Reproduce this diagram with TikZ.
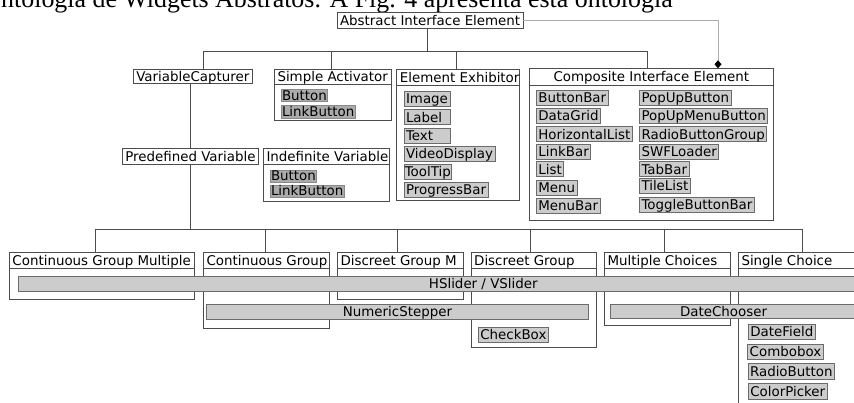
\documentclass[tikz,border=0pt]{standalone}
\usepackage{fontspec}
\setmainfont{DejaVu Sans}
\newfontfamily\titlefont{Liberation Serif}
\usetikzlibrary{calc,arrows.meta}
\definecolor{edge}{gray}{0.3}
\definecolor{itemfill}{gray}{0.8}
\definecolor{itemdark}{gray}{0.67}
\definecolor{itemedge}{gray}{0.42}
\definecolor{linkgray}{gray}{0.68}
\newcommand\mkpanel[7]{%
  \node[box, minimum width=#4pt, minimum height=#5pt] (#1) at (#2,#3) {};
  \draw[tree] ([yshift=-#6pt]#1.north west) -- ([yshift=-#6pt]#1.north east);
  \node[hdr] (#1-t) at ([yshift=-0.5*#6pt]#1.north west) {#7};
}
\begin{document}
\begin{tikzpicture}[x=1pt,y=-1pt,
  font=\fontsize{13.4}{16}\selectfont,
  box/.style={draw=edge, line width=0.9pt, anchor=north west, inner sep=0pt, outer sep=0pt},
  solo/.style={draw=edge, line width=0.9pt, anchor=north west, inner xsep=3pt, inner ysep=0pt, outer sep=0pt, text height=9.8pt, text depth=0pt},
  hdr/.style={anchor=west, inner xsep=3pt, inner ysep=0pt, text height=9.8pt, text depth=0pt},
  itm/.style={draw=itemedge, fill=itemfill, line width=0.8pt, anchor=north west, inner xsep=2pt, inner ysep=0pt, outer sep=0pt, text height=9.8pt, text depth=0pt, minimum height=15pt},
  dk/.style={itm, fill=itemdark, draw=itemdark!80!black, inner xsep=1pt, minimum height=12.4pt},
  bar/.style={itm, inner xsep=0pt},
  tree/.style={draw=edge, line width=0.9pt},
]
\useasboundingbox (0,0) rectangle (854,403);
\clip (0,0) rectangle (854,403);
\fill[white] (0,0) rectangle (854,403);

% cut-off text line of the page
\node[anchor=base west, inner sep=0pt, font=\titlefont\fontsize{25.9}{30}\selectfont] (title) at (1,8) {ntologia de Widgets Abstratos. A Fig. 4 apresenta esta ontologia};

% top level
\node[solo, fill=white, minimum height=15.6pt] (aie) at (337,12.7) {Abstract Interface Element};
\node[solo, minimum height=14.5pt] (vc) at (133.3,69) {VariableCapturer};
\mkpanel{sa}{274.3}{69}{116.7}{51.7}{15.3}{Simple Activator}
\mkpanel{ee}{396.7}{69.5}{122.6}{130.5}{15.5}{Element Exhibitor}
\node[box, minimum width=244pt, minimum height=151.7pt] (cie) at (529.3,68.3) {};
\draw[tree] ([yshift=-16.7pt]cie.north west) -- ([yshift=-16.7pt]cie.north east);
\node[hdr, anchor=center] (cie-t) at ([yshift=-8.35pt]cie.north) {Composite Interface Element};

\node[solo, minimum height=15.3pt] (pv) at (122.3,148.7) {Predefined Variable};
\mkpanel{iv}{263.3}{148.3}{126}{53.4}{15.7}{Indefinite Variable}

% connectors, top
\draw[tree] (aie.south -| 427.5,0) -- (427.5,51);
\draw[tree] (vc.north -| 203.3,0) |- (647.7,51) -- (cie.north -| 647.7,0);
\draw[tree] (331,51) -- (sa.north -| 331,0);
\draw[tree] (456,51) -- (ee.north -| 456,0);
\draw[draw=linkgray, line width=0.9pt, -{Diamond[length=8pt,width=7pt,color=black,fill=black]}] (aie.east) -| ([xshift=66.7pt]cie.north);
\draw[tree] (vc.south -| 190,0) -- (pv.north -| 190,0);

% items, Simple Activator
\node[dk] (sa1) at (281,89.3) {Button};
\node[dk] (sa2) at (281,105.7) {LinkButton};
% items, Indefinite Variable
\node[dk, minimum height=12pt] (iv1) at (270,170) {Button};
\node[dk, minimum height=12pt] (iv2) at (270,185) {LinkButton};
% items, Element Exhibitor
\node[itm] (ee1) at (404,91) {Image};
\node[itm, text width=42pt, align=left] (ee2) at (404,109.7) {Label};
\node[itm, text width=42pt, align=left] (ee3) at (404,128) {Text};
\node[itm] (ee4) at (404,146.5) {VideoDisplay};
\node[itm, inner xsep=0.8pt] (ee5) at (404,164.5) {ToolTip};
\node[itm] (ee6) at (404,182.3) {ProgressBar};
% items, Composite Interface Element
\begin{scope}[every node/.append style={inner xsep=2.5pt}]
\node[itm] (c1) at (536.4,90) {ButtonBar};
\node[itm] (c2) at (536.4,108.3) {DataGrid};
\node[itm] (c3) at (536.4,126.7) {HorizontalList};
\node[itm] (c4) at (536.4,144.3) {LinkBar};
\node[itm] (c5) at (536.4,161.7) {List};
\node[itm] (c6) at (536.4,180) {Menu};
\node[itm] (c7) at (536.4,198.3) {MenuBar};
\end{scope}
\begin{scope}[every node/.append style={inner xsep=1.8pt}]
\node[itm] (d1) at (639.5,90) {PopUpButton};
\node[itm] (d2) at (639.5,108) {PopUpMenuButton};
\node[itm] (d3) at (639.5,126.7) {RadioButtonGroup};
\node[itm] (d4) at (639.5,144) {SWFLoader};
\node[itm] (d5) at (639.5,161.7) {TabBar};
\node[itm] (d6) at (639.5,178.5) {TileList};
\node[itm] (d7) at (639.5,197) {ToggleButtonBar};
\end{scope}

% bottom row
\mkpanel{cgm}{9.3}{252.3}{185}{47}{16}{Continuous Group Multiple}
\mkpanel{cg}{203.3}{252.3}{126}{76}{16}{Continuous Group}
\mkpanel{dgm}{337.3}{252.3}{126}{47}{16}{Discreet Group M}
\mkpanel{dg}{471}{252.3}{125.7}{95.4}{16}{Discreet Group}
\mkpanel{mc}{604.3}{252.3}{126.4}{73.4}{16}{Multiple Choices}
\mkpanel{sc}{738.3}{252.3}{134}{200}{16}{Single Choice}

% connectors, bottom
\draw[tree] (pv.south -| 190,0) -- (190,229);
\draw[tree] (cgm.north -| 95.7,0) |- (802.3,229) -- (sc.north -| 802.3,0);
\draw[tree] (265.7,229) -- (cg.north -| 265.7,0);
\draw[tree] (397.3,229) -- (dgm.north -| 397.3,0);
\draw[tree] (530.7,229) -- (dg.north -| 530.7,0);
\draw[tree] (664.3,229) -- (mc.north -| 664.3,0);

% bars
\node[bar, minimum width=930pt, minimum height=14.3pt] (hs) at (18.3,276.7) {HSlider / VSlider};
\node[bar, minimum width=381.6pt, minimum height=14.7pt] (ns) at (206.7,304.3) {NumericStepper};
\node[bar, minimum width=300pt, minimum height=14.3pt] (dc) at (610,304) {};
\node[hdr, anchor=center, inner xsep=0pt] (dc-t) at ($(dc.west)+(113.5,0)$) {DateChooser};

% bottom items
\node[itm] (cb) at (478.3,327.3) {CheckBox};
\begin{scope}[every node/.append style={inner xsep=3pt}]
\node[itm] (s1) at (748.3,324) {DateField};
\node[itm] (s2) at (747.7,344.3) {Combobox};
\node[itm, minimum height=15.7pt] (s3) at (748,363.3) {RadioButton};
\node[itm, minimum height=15.7pt] (s4) at (748.3,383.3) {ColorPicker};
\end{scope}
\end{tikzpicture}
\end{document}
